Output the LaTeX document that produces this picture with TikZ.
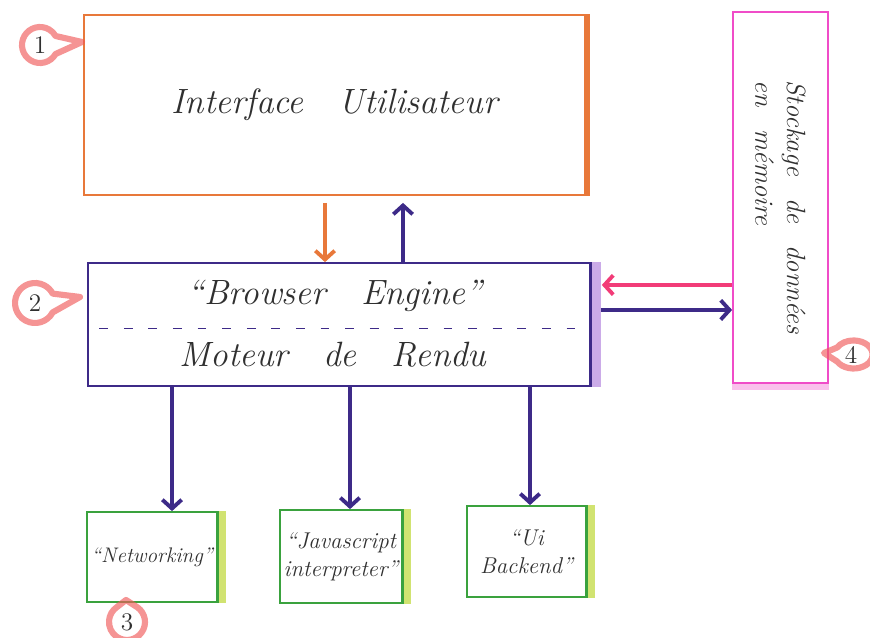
\documentclass[tikz,border=0pt]{standalone}
\usetikzlibrary{arrows.meta,calc}
\definecolor{penorange}{HTML}{E8783A}
\definecolor{penpurple}{HTML}{3D2A88}
\definecolor{penmagenta}{HTML}{F04CC8}
\definecolor{penpink}{HTML}{F23C78}
\definecolor{pengreen}{HTML}{3AA23E}
\definecolor{penlime}{HTML}{C6DC4E}
\definecolor{penlavender}{HTML}{B98FE0}
\definecolor{penred}{HTML}{F05A5A}
\definecolor{ink}{HTML}{303030}
\tikzset{
  box/.style={draw, line width=1pt, inner sep=0pt, align=center, text=ink, font=\itshape},
  arr/.style={line width=2.2pt, -{Straight Barb[length=5pt,width=11pt]}},
  badge/.style={draw=penred, line width=3.5pt, opacity=0.65, line join=round},
  badgenum/.style={text=ink, font=\Large},
}
\begin{document}
\begin{tikzpicture}[x=0.02cm, y=-0.02cm]
\useasboundingbox (0,0) rectangle (870,638);

% main blocks
\node[box, draw=penorange, minimum width=10.02cm, minimum height=3.6cm,
      font=\itshape\fontsize{20}{24}\selectfont] (ui) at (334.5,105) {Interface\quad Utilisateur};
\node[box, draw=penpurple, minimum width=10.04cm, minimum height=2.46cm] (be) at (339,324.5) {};
\node[box, draw=penmagenta, minimum width=1.9cm, minimum height=7.42cm] (mem) at (780.5,197.5) {};
\node[box, draw=pengreen, minimum width=2.6cm, minimum height=1.8cm,
      font=\itshape\fontsize{12}{15}\selectfont] (net) at (152,557) {``Networking''};
\node[box, draw=pengreen, minimum width=2.44cm, minimum height=1.86cm,
      font=\itshape\fontsize{13}{16}\selectfont] (js) at (341,556.5) {``Javascript\\ interpreter''};
\node[box, draw=pengreen, minimum width=2.38cm, minimum height=1.82cm,
      font=\itshape\fontsize{13}{16}\selectfont] (uib) at (526.5,551.5) {``Ui\\ Backend''};

% coloured edges along the boxes
\draw[penorange, line width=2.5pt] ([xshift=1pt]ui.north east) -- ([xshift=1pt]ui.south east);
\fill[penlavender, opacity=0.75] (be.north east) rectangle ([xshift=0.2cm]be.south east);
\draw[penpurple, line width=1pt] (be.north east) -- (be.south east);
\fill[penmagenta, opacity=0.35] (mem.south west) rectangle ([yshift=-0.12cm]mem.south east);
\foreach \b in {net,js,uib}{
  \fill[penlime, opacity=0.8] ([xshift=0.5pt]\b.north east) rectangle ([xshift=0.16cm]\b.south east);
  \draw[pengreen, line width=1pt] (\b.north east) -- (\b.south east);
}

% texts of the engine block and of the memory block
\draw[penpurple, line width=1pt, dash pattern=on 5pt off 9pt] ([xshift=0.24cm]be.west) ++(0,-0.08cm) coordinate (dl) -- ([xshift=-0.3cm,yshift=-0.08cm]be.east) coordinate (dr);
\node[text=ink, font=\itshape\fontsize{20}{24}\selectfont] (betop) at (335,296) {``Browser\quad Engine''};
\node[text=ink, font=\itshape\fontsize{20}{24}\selectfont] (bebot) at (333,355) {Moteur\quad de\quad Rendu};
\node[text=ink, font=\itshape\fontsize{15}{18}\selectfont, rotate=-90, align=left, anchor=north west, inner sep=0pt] (memtxt) at (806,80)
  {Stockage\enspace\ de\enspace\ données\\ en\enspace\ mémoire};

% connectors
\draw[arr, penorange, shorten <=4pt] ([xshift=-0.19cm]ui.south) -- ([xshift=-0.19cm]ui.south |- be.north);
\draw[arr, penpurple, shorten >=4pt] ([xshift=1.37cm]ui.south |- be.north) -- ([xshift=1.37cm]ui.south);
\draw[arr, penpink] ([yshift=-1.75cm]mem.west) -- ([xshift=0.22cm, yshift=-1.75cm]mem.west -| be.east);
\draw[arr, penpurple] ([xshift=0.2cm, yshift=-2.25cm]mem.west -| be.east) -- ([yshift=-2.25cm]mem.west);
\draw[arr, penpurple] ([xshift=0.4cm]net.north |- be.south) -- ([xshift=0.4cm]net.north);
\draw[arr, penpurple] ([xshift=0.18cm]js.north |- be.south) -- ([xshift=0.18cm]js.north);
\draw[arr, penpurple] ([xshift=0.07cm]uib.north |- be.south) -- ([xshift=0.07cm]uib.north);

% numbered badges
\node[badgenum] (n1) at (40,45) {1};
\draw[badge] (82,42) -- ($(n1)+(30:18)$) arc[start angle=30, end angle=330, radius=18] -- cycle;
\node[badgenum] (n2) at (35,303) {2};
\draw[badge] (80,297) -- ($(n2)+(28:20)$) arc[start angle=28, end angle=332, radius=20] -- cycle;
\node[badgenum] (n3) at (127,622) {3};
\draw[badge] (126,600) -- ($(n3)+(-55:18)$) arc[start angle=-55, end angle=235, radius=18] -- cycle;
\node[badgenum] (n4) at (851,355) {4};
\draw[badge] (824,353) -- ($(n4)+(150:16 and 13)$) arc[start angle=150, end angle=-150, x radius=19, y radius=14] -- cycle;
\end{tikzpicture}
\end{document}
